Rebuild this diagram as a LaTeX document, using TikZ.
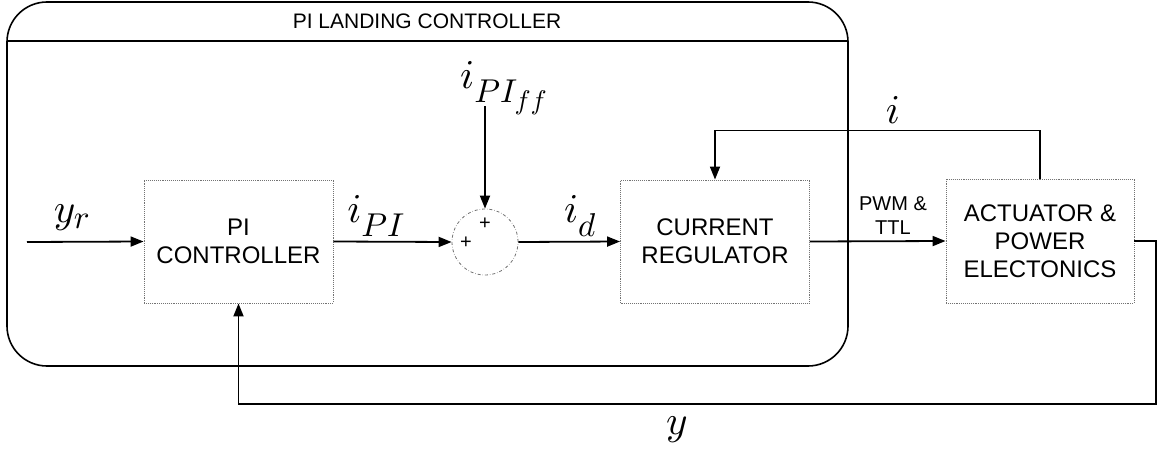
\documentclass[tikz,border=0pt]{standalone}
\usepackage{fontspec}
\setmainfont{Liberation Sans}
\usetikzlibrary{arrows.meta}
\DeclareFontShape{OML}{cmm}{m}{it}{<->cmmi10}{}
\DeclareFontShape{OMS}{cmsy}{m}{n}{<->cmsy10}{}
\DeclareFontShape{OT1}{cmr}{m}{n}{<->cmr10}{}
\DeclareMathSizes{41}{41}{33}{27}
\newcommand{\dsub}[1]{_{\raisebox{-8pt}{$\scriptstyle #1$}}}
\begin{document}
\begin{tikzpicture}[x=1pt,y=-1pt,
  blk/.style={draw=black!55, densely dotted, line width=0.9pt, minimum width=189pt, minimum height=123pt, align=center, font=\fontsize{24}{28}\selectfont, inner sep=0pt},
  sig/.style={line width=1.8pt, -{Triangle[length=13pt,width=10pt]}},
  lab/.style={font=\fontsize{41}{48}\selectfont, inner sep=0pt},
  plus/.style={font=\fontsize{20}{20}\selectfont, inner sep=0pt}]
\useasboundingbox (0,0) rectangle (1158,452);
% outer landing controller frame
\node[draw, line width=1.6pt, rounded corners=40pt, minimum width=841pt, minimum height=364pt, inner sep=0pt] (lc) at (427.5,184) {};
\coordinate (hl) at (7,41);
\coordinate (hr) at (848,41);
\draw[line width=1.6pt] (hl) -- (hr);
\node[font=\fontsize{21}{24}\selectfont, inner sep=0pt] (title) at (427,21) {PI LANDING CONTROLLER};
% blocks
\node[blk] (pic) at (238.5,241.5) {PI\\CONTROLLER};
\node[blk] (cr) at (715,241.5) {CURRENT\\REGULATOR};
\node[blk, minimum width=188pt, minimum height=124pt] (act) at (1040,241) {ACTUATOR \&\\POWER\\ELECTONICS};
\node[circle, draw=black!55, dash dot, line width=0.8pt, minimum size=66pt, inner sep=0pt] (sum) at (485,242) {};
\node[plus] (p1) at (466,243) {+};
\node[plus] (p2) at (485,224) {+};
% signals
\coordinate (yrin) at (27,242);
\draw[sig] (yrin) -- (pic.west);
\node[lab] (yr) at (72,218) {$y_r$};
\draw[sig] (pic.east) -- (sum.west);
\node[lab] (ipi) at (376,216) {$i\dsub{PI}$};
\node[lab] (iff) at (504,88) {$i\dsub{PI_{ff}}$};
\coordinate (fftop) at (485,106);
\draw[sig] (fftop) -- (sum.north);
\draw[sig] (sum.east) -- (cr.west);
\node[lab] (id) at (580,216) {$i\dsub{d}$};
\draw[sig] (cr.east) -- (act.west);
\node[font=\fontsize{20}{24}\selectfont, align=center, inner sep=0pt] (pwm) at (893,216) {PWM \&\\TTL};
\draw[sig] (act.north) -- ++(0,-48) -| (cr.north);
\node[lab] (il) at (893,110) {$i$};
\coordinate (yc) at (1156,404);
\draw[sig] (act.east) -| (yc) -| (pic.south);
\node[lab] (yl) at (677,430) {$y$};
\end{tikzpicture}
\end{document}
